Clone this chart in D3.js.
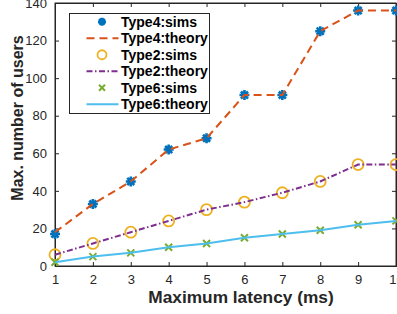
<!DOCTYPE html>
<html lang="en">
<head>
<meta charset="UTF-8">
<title>latency users</title>
<script src="https://cdn.jsdelivr.net/npm/d3@7"></script>
<style>
  body { margin: 0; background: #fff; }
  svg { display: block; font-family: "Liberation Sans", Arial, sans-serif; }
</style>
</head>
<body>
<script type="text/javascript">
    // data
    let latency = [1, 2, 3, 4, 5, 6, 7, 8, 9, 10];
    let type4Sims = [17, 33, 45, 62, 68, 91, 91, 125, 136, 136];
    let type4Theory = [18, 33, 45, 62, 68, 91, 91, 125, 136, 136];
    let type2Sims = [6, 12, 18, 24, 30, 34, 39, 45, 54, 54];
    let type2Theory = [6, 12, 18, 24, 30, 34, 39, 45, 54, 54];
    let type6Sims = [2, 5, 7, 10, 12, 15, 17, 19, 22, 24];
    let type6Theory = [2, 5, 7, 10, 12, 15, 17, 19, 22, 24];
    let yTicks = [0, 20, 40, 60, 80, 100, 120, 140];
    let legendLabels = ["Type4:sims", "Type4:theory", "Type2:sims", "Type2:theory", "Type6:sims", "Type6:theory"];

    let width = 397, height = 314;
    let mLeft = 55, mRight = 396, mTop = 3, mBottom = 266;
    let axisColor = "#262626";

    let svg = d3.select("body").append("svg")
        .attr("width", width)
        .attr("height", height);

    let x = d3.scaleLinear().domain([1, 10]).range([mLeft, mRight]);
    let y = d3.scaleLinear().domain([0, 140]).range([mBottom, mTop]);

    // box
    svg.append("rect")
        .attr("x", mLeft).attr("y", mTop)
        .attr("width", mRight - mLeft).attr("height", mBottom - mTop)
        .attr("fill", "none").attr("stroke", axisColor).attr("stroke-width", 1);

    let xAxis = d3.axisBottom(x).tickValues(latency).tickSize(-4).tickPadding(9);
    let gx = svg.append("g").attr("transform", `translate(0,${mBottom})`).call(xAxis);
    let xTop = d3.axisTop(x).tickValues(latency).tickSize(-4).tickFormat("");
    let gxt = svg.append("g").attr("transform", `translate(0,${mTop})`).call(xTop);
    let yAxis = d3.axisLeft(y).tickValues(yTicks).tickSize(-4).tickPadding(8);
    let gy = svg.append("g").attr("transform", `translate(${mLeft},0)`).call(yAxis);
    let yRight = d3.axisRight(y).tickValues(yTicks).tickSize(-4).tickFormat("");
    let gyr = svg.append("g").attr("transform", `translate(${mRight},0)`).call(yRight);

    [gx, gxt, gy, gyr].forEach(g => {
        g.select(".domain").attr("stroke", axisColor);
        g.selectAll(".tick line").attr("stroke", axisColor);
        g.selectAll("text")
            .attr("fill", axisColor)
            .style("font-size", "13px")
            .style("font-family", "'Liberation Sans', Arial, sans-serif");
    });

    // axis titles
    svg.append("text")
        .attr("x", 241).attr("y", 303)
        .attr("text-anchor", "middle")
        .style("font-size", "17.3px").style("font-weight", "bold")
        .attr("fill", axisColor)
        .text("Maximum latency (ms)");
    svg.append("text")
        .attr("transform", `translate(23,118) rotate(-90)`)
        .attr("text-anchor", "middle")
        .style("font-size", "16px").style("font-weight", "bold")
        .attr("fill", axisColor)
        .text("Max. number of users");

    let line = d3.line().x((d, i) => x(latency[i])).y(d => y(d));

    let lineStyles = [
        { data: type4Theory, color: "#D95319", dash: "8,5" },
        { data: type2Theory, color: "#7E2F8E", dash: "6,2.5,1.5,2.5" },
        { data: type6Theory, color: "#4DBEEE", dash: null }
    ];

    // marker drawers
    function asterisk(g, cx, cy, r, color) {
        let p = d3.path();
        for (let k = 0; k < 4; k++) {
            let a = k * Math.PI / 4;
            p.moveTo(cx - r * Math.cos(a), cy - r * Math.sin(a));
            p.lineTo(cx + r * Math.cos(a), cy + r * Math.sin(a));
        }
        g.append("path").attr("d", p.toString())
            .attr("stroke", color).attr("stroke-width", 2.6).attr("fill", "none");
        g.append("circle").attr("cx", cx).attr("cy", cy).attr("r", r * 0.5).attr("fill", color);
    }
    function circ(g, cx, cy, r, color) {
        g.append("circle").attr("cx", cx).attr("cy", cy).attr("r", r)
            .attr("fill", "none").attr("stroke", color).attr("stroke-width", 1.8);
    }
    function cross(g, cx, cy, r, color) {
        let p = d3.path();
        p.moveTo(cx - r, cy - r); p.lineTo(cx + r, cy + r);
        p.moveTo(cx - r, cy + r); p.lineTo(cx + r, cy - r);
        g.append("path").attr("d", p.toString())
            .attr("stroke", color).attr("stroke-width", 2).attr("fill", "none");
    }

    let plot = svg.append("g");
    // sims markers first, theory lines over them
    let mk = plot.append("g");
    type4Sims.forEach((v, i) => asterisk(mk, x(latency[i]), y(v), 5, "#0072BD"));
    type2Sims.forEach((v, i) => circ(mk, x(latency[i]), y(v), 5.5, "#EDB120"));
    type6Sims.forEach((v, i) => cross(mk, x(latency[i]), y(v), 3.5, "#77AC30"));

    lineStyles.forEach(s => {
        plot.append("path")
            .datum(s.data)
            .attr("fill", "none")
            .attr("stroke", s.color)
            .attr("stroke-width", 2)
            .attr("stroke-dasharray", s.dash)
            .attr("d", line);
    });

    // legend
    let lg = svg.append("g");
    lg.append("rect")
        .attr("x", 69.5).attr("y", 13.5).attr("width", 140).attr("height", 100)
        .attr("fill", "#fff").attr("stroke", axisColor).attr("stroke-width", 1);
    let rowY = d3.scalePoint().domain(legendLabels).range([21.7, 104.3]);
    let sampleX0 = 86.5, sampleX1 = 118.5, sampleXc = 102;
    legendLabels.forEach((lab, i) => {
        let yy = rowY(lab);
        if (i === 0) asterisk(lg, sampleXc, yy, 4, "#0072BD");
        if (i === 2) circ(lg, sampleXc, yy, 4.5, "#EDB120");
        if (i === 4) cross(lg, sampleXc, yy, 3, "#77AC30");
        if (i % 2 === 1) {
            let s = lineStyles[(i - 1) / 2];
            lg.append("line")
                .attr("x1", sampleX0).attr("x2", sampleX1)
                .attr("y1", yy).attr("y2", yy)
                .attr("stroke", s.color).attr("stroke-width", 2)
                .attr("stroke-dasharray", s.dash);
        }
        lg.append("text")
            .attr("x", 121).attr("y", yy + 5)
            .style("font-size", "14px").style("font-weight", "bold")
            .attr("fill", "#000")
            .text(lab);
    });
</script>
</body>
</html>
